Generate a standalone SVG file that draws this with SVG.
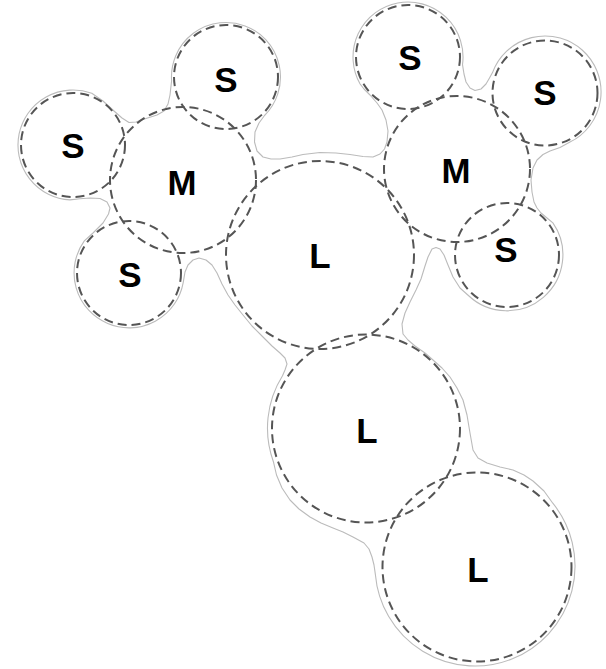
<svg xmlns="http://www.w3.org/2000/svg" width="606" height="669" viewBox="0 0 606 669">
<style>
.ring{fill:none;stroke:#555;stroke-width:2;stroke-dasharray:9 5}
.hull{fill:none;stroke:#bbb;stroke-width:1.1;stroke-linejoin:round}
.lbl{font-family:"Liberation Sans",Arial,sans-serif;font-weight:bold;font-size:35px;fill:#000;text-anchor:middle}
</style>
<rect width="606" height="669" fill="#fff"/>
<g id="outline">
<path class="hull" d="M171.6,80.8 A54.5 54.5 0 1 1 264.5,115.5 L259,123 L255,132 L254.5,142 L257,151 L263,157 L271,159 L280,159 L292,157 L303,154.5 L320,152.5 L336,153 L350,154.5 L363,156.5 L373,157 L380,154 L384.5,149 L387,142 L388,131 L386,120 L382,110 L377,103 L370,95 L364,89 L360.1,84 A55 55 0 1 1 462.5,64.6 L464,74 L466,82 L470,88 L475,90.5 L481,89 L486,84 L489.5,78 L492.5,72.6 A56 56 0 1 1 570,142.1 L560,147.5 L550,151 L543,154.5 L537,160 L533,168 L531,180 L532,192 L534,202 L537,208 L541,213 L547,218 L552.9,222.9 A56 56 0 0 1 468.4,295.5 L460,288 L453,277 L448,265 L444,255 L440,249 L436,247.5 L432,249 L428,257 L425,266 L421,279 L416,290 L410,302 L405,313 L402,324 L403,334 L408,340 L415,346 L425,353 L433,360 L442,368 L450,377 L457,388 L463,400 L467,415 L470,433 L473,450 L478,458 L487,463 L500,467 L513,470 L524,475 L533,481 L544,491 L552.8,503.2 A100 100 0 1 1 375.4,574.7 L374,565 L372,557 L369,549 L364,543 L353,537 L343,532 L333,528 L321,523 L310,517 L299,509 L290,500 L282,488 L276.5,475 L273.4,461.7 A98.5 98.5 0 0 1 282.5,375.8 L285,370 L287,364 L285,358 L280,353 L272,346 L262,336 L252,326 L243,315 L235,305 L228,295 L222,284 L217,273 L212,265 L206,260 L199,258 L193,260 L188,265 L185,272 L183.2,282.6 A55 55 0 1 1 84.3,240.9 L93,233 L103,223 L108.5,214 L110,208 L107,202 L100,198.5 L90,198 L80,198.8 L70,199.9 A55 55 0 1 1 91.8,93.3 L103,101 L114,111 L122,118 L129,122.5 L136,122 L146,118.5 L157,115 L164,111 L168,104 L170,95 Z"/>
</g>
<g id="node-s-left"><circle class="ring" cx="73" cy="145" r="52"/><text class="lbl" x="73" y="158">S</text></g>
<g id="node-s-topleft"><circle class="ring" cx="226" cy="77" r="52"/><text class="lbl" x="226" y="92">S</text></g>
<g id="node-m-left"><circle class="ring" cx="183" cy="180" r="73"/><text class="lbl" x="182" y="195" textLength="29" lengthAdjust="spacingAndGlyphs">M</text></g>
<g id="node-s-bottomleft"><circle class="ring" cx="129" cy="273" r="52"/><text class="lbl" x="130" y="287">S</text></g>
<g id="node-l-1"><circle class="ring" cx="320" cy="255" r="94"/><text class="lbl" x="320" y="268">L</text></g>
<g id="node-s-topright"><circle class="ring" cx="408" cy="57" r="52"/><text class="lbl" x="410" y="70">S</text></g>
<g id="node-s-right"><circle class="ring" cx="545" cy="93" r="52.5"/><text class="lbl" x="545" y="105">S</text></g>
<g id="node-m-right"><circle class="ring" cx="457" cy="169" r="73"/><text class="lbl" x="456" y="183" textLength="29" lengthAdjust="spacingAndGlyphs">M</text></g>
<g id="node-s-bottomright"><circle class="ring" cx="507" cy="255" r="52"/><text class="lbl" x="506" y="262">S</text></g>
<g id="node-l-2"><circle class="ring" cx="366" cy="428.5" r="94"/><text class="lbl" x="367" y="443">L</text></g>
<g id="node-l-3"><circle class="ring" cx="477" cy="567" r="94.5"/><text class="lbl" x="478" y="582">L</text></g>
</svg>
